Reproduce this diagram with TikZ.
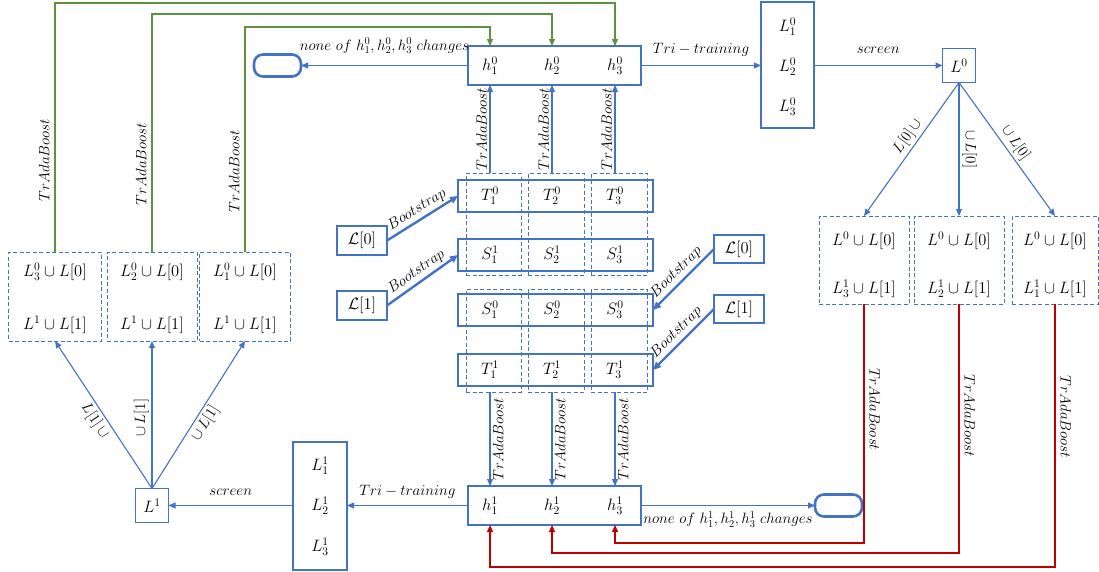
\RequirePackage{fix-cm}
\documentclass[tikz,border=0pt]{standalone}
\usetikzlibrary{arrows.meta}
\definecolor{cblue}{RGB}{68,114,196}
\definecolor{cgreen}{RGB}{95,145,65}
\definecolor{cred}{RGB}{192,0,0}
\begin{document}
\begin{tikzpicture}[x=1pt,y=-1pt,font=\fontsize{15}{18}\selectfont,
  bx/.style={draw=cblue, line width=1.1pt, inner sep=0pt, outer sep=0pt},
  dbx/.style={draw=cblue, line width=1pt, dash pattern=on 4pt off 2.5pt, inner sep=0pt, outer sep=0pt},
  tbx/.style={draw=cblue, line width=2.6pt, inner sep=0pt, outer sep=0pt, font=\fontsize{16.5}{19}\selectfont},
  termbox/.style={draw=cblue, line width=2.6pt, rounded corners=9pt, minimum width=47pt, minimum height=22pt, inner sep=0pt, outer sep=0pt},
  txt/.style={font=\fontsize{16.5}{19}\selectfont},
  conn/.style={cblue, line width=1.1pt, -{Triangle[length=7pt,width=6pt]}},
  bconn/.style={cblue, line width=2.4pt, -{Triangle[length=8pt,width=7pt]}},
  gconn/.style={cgreen, line width=1.4pt, -{Triangle[length=7pt,width=6pt]}},
  rconn/.style={cred, line width=1.4pt, -{Triangle[length=7pt,width=6pt]}},
  lbl/.style={inner sep=2.5pt, text=black},
  flbl/.style={inner sep=5pt, text=black}
]
\useasboundingbox (0,0) rectangle (1099,571);

% ---------- top h0 box ----------
\node[bx, minimum width=173pt, minimum height=39pt] (H0) at (554.5,65.5) {};
\node[txt] (h01) at (490,65.5) {$h_1^0$};
\node[txt] (h02) at (552,65.5) {$h_2^0$};
\node[txt] (h03) at (615,65.5) {$h_3^0$};
\node[termbox] (E0) at (277.5,65.5) {};
\node[bx, minimum width=53pt, minimum height=126pt] (S0) at (787.5,65) {};
\node[txt] (l10) at (787.5,27) {$L_1^0$};
\node[txt] (l20) at (787.5,67) {$L_2^0$};
\node[txt] (l30) at (787.5,107) {$L_3^0$};
\node[bx, txt, minimum width=33pt, minimum height=34pt] (Q0) at (959,65.5) {$L^0$};

\draw[conn] (H0.west) -- node[midway, anchor=base, yshift=15.5pt, lbl] {$none\ of\ h_1^0, h_2^0, h_3^0\ changes$} (E0.east);
\draw[conn] (H0.east) -- node[midway, anchor=base, yshift=12.5pt, lbl] {$Tri-training$} (H0.east -| S0.west);
\draw[conn] (H0.east -| S0.east) -- node[midway, anchor=base, yshift=12.5pt, lbl] {$screen$} (Q0.west);

% ---------- right dashed boxes ----------
\node[dbx, minimum width=90pt, minimum height=88pt] (RB1) at (864,260) {};
\node[dbx, minimum width=90pt, minimum height=88pt] (RB2) at (959,260) {};
\node[dbx, minimum width=86pt, minimum height=88pt] (RB3) at (1055,260) {};
\node[txt] (rb1a) at (864,241) {$L^0\cup L[0]$};
\node[txt] (rb1b) at (864,289) {$L_3^1\cup L[1]$};
\node[txt] (rb2a) at (959,241) {$L^0\cup L[0]$};
\node[txt] (rb2b) at (959,289) {$L_2^1\cup L[1]$};
\node[txt] (rb3a) at (1055,241) {$L^0\cup L[0]$};
\node[txt] (rb3b) at (1055,289) {$L_1^1\cup L[1]$};

\draw[conn] (Q0.south) -- node[rotate=54.5, above, lbl, pos=0.45]{$L[0]\,\cup$} (RB1.north);
\draw[conn] (Q0.south) -- node[rotate=-90, above, lbl, pos=0.5]{$\cup\,L[0]$} (RB2.north);
\draw[conn] (Q0.south) -- node[rotate=-54.5, above, lbl, pos=0.5]{$\cup\,L[0]$} (RB3.north);

% ---------- center grid ----------
\node[dbx, minimum width=55pt, minimum height=102pt] (C01) at (493.5,224) {};
\node[dbx, minimum width=56pt, minimum height=102pt] (C02) at (556,224) {};
\node[dbx, minimum width=56pt, minimum height=102pt] (C03) at (619,224) {};
\node[dbx, minimum width=55pt, minimum height=103pt] (C11) at (493.5,340.5) {};
\node[dbx, minimum width=56pt, minimum height=103pt] (C12) at (556,340.5) {};
\node[dbx, minimum width=56pt, minimum height=103pt] (C13) at (619,340.5) {};

\node[bx, minimum width=195pt, minimum height=32pt] (RT0) at (555.5,196) {};
\node[bx, minimum width=195pt, minimum height=32pt] (RS1) at (555.5,255) {};
\node[bx, minimum width=195pt, minimum height=32pt] (RS0) at (555.5,310) {};
\node[bx, minimum width=195pt, minimum height=32pt] (RT1) at (555.5,370) {};

\node[txt] (t01) at (490,196) {$T_1^0$};
\node[txt] (t02) at (552,196) {$T_2^0$};
\node[txt] (t03) at (615,196) {$T_3^0$};
\node[txt] (s11) at (490,255) {$S_1^1$};
\node[txt] (s12) at (552,255) {$S_2^1$};
\node[txt] (s13) at (615,255) {$S_3^1$};
\node[txt] (s01) at (490,310) {$S_1^0$};
\node[txt] (s02) at (552,310) {$S_2^0$};
\node[txt] (s03) at (615,310) {$S_3^0$};
\node[txt] (t11) at (490,370) {$T_1^1$};
\node[txt] (t12) at (552,370) {$T_2^1$};
\node[txt] (t13) at (615,370) {$T_3^1$};

\draw[conn] (C01.north -| h01) -- node[rotate=90, above, lbl] {$TrAdaBoost$} (H0.south -| h01);
\draw[conn] (C02.north -| h02) -- node[rotate=90, above, lbl] {$TrAdaBoost$} (H0.south -| h02);
\draw[conn] (C03.north -| h03) -- node[rotate=90, above, lbl] {$TrAdaBoost$} (H0.south -| h03);

% ---------- bootstrap boxes ----------
\node[tbx, minimum width=50pt, minimum height=29pt] (LL0) at (362,240.5) {$\mathcal{L}[0]$};
\node[tbx, minimum width=50pt, minimum height=29pt] (LL1) at (362,305.5) {$\mathcal{L}[1]$};
\node[tbx, minimum width=50pt, minimum height=28pt] (RL0) at (739,249) {$\mathcal{L}[0]$};
\node[tbx, minimum width=50pt, minimum height=28pt] (RL1) at (739,309) {$\mathcal{L}[1]$};

\draw[bconn] (LL0.east) -- node[sloped, above, lbl] {$Bootstrap$} (RT0.west);
\draw[bconn] (LL1.east) -- node[sloped, above, lbl] {$Bootstrap$} (RS1.west);
\draw[bconn] (RL0.west) -- node[sloped, above, lbl] {$Bootstrap$} (RS0.east);
\draw[bconn] (RL1.west) -- node[sloped, above, lbl] {$Bootstrap$} (RT1.east);

% ---------- bottom h1 box ----------
\node[bx, minimum width=173pt, minimum height=39pt] (H1) at (554.5,505.5) {};
\node[txt] (h11) at (490,505.5) {$h_1^1$};
\node[txt] (h12) at (552,505.5) {$h_2^1$};
\node[txt] (h13) at (615,505.5) {$h_3^1$};
\node[termbox] (E1) at (838.5,505.5) {};
\node[bx, minimum width=54pt, minimum height=128pt] (S1) at (320,506) {};
\node[txt] (l11) at (320,466) {$L_1^1$};
\node[txt] (l21) at (320,506) {$L_2^1$};
\node[txt] (l31) at (320,547) {$L_3^1$};
\node[bx, txt, minimum width=33pt, minimum height=34pt] (Q1) at (152,505.5) {$L^1$};

\draw[conn] (C11.south -| h11) -- node[rotate=90, below, lbl] {$TrAdaBoost$} (H1.north -| h11);
\draw[conn] (C12.south -| h12) -- node[rotate=90, below, lbl] {$TrAdaBoost$} (H1.north -| h12);
\draw[conn] (C13.south -| h13) -- node[rotate=90, below, lbl] {$TrAdaBoost$} (H1.north -| h13);

\draw[conn] (H1.east) -- node[midway, anchor=base, yshift=-18pt, lbl] {$none\ of\ h_1^1, h_2^1, h_3^1\ changes$} (E1.west);
\draw[conn] (H1.west) -- node[midway, anchor=base, yshift=10pt, lbl] {$Tri-training$} (H1.west -| S1.east);
\draw[conn] (H1.west -| S1.west) -- node[midway, anchor=base, yshift=10pt, lbl] {$screen$} (Q1.east);

% ---------- left dashed boxes ----------
\node[dbx, minimum width=93pt, minimum height=89pt] (LB1) at (55,296.5) {};
\node[dbx, minimum width=90pt, minimum height=89pt] (LB2) at (152,296.5) {};
\node[dbx, minimum width=91pt, minimum height=89pt] (LB3) at (245,296.5) {};
\node[txt] (lb1a) at (55,272) {$L_3^0\cup L[0]$};
\node[txt] (lb1b) at (55,325) {$L^1\cup L[1]$};
\node[txt] (lb2a) at (152,272) {$L_2^0\cup L[0]$};
\node[txt] (lb2b) at (152,325) {$L^1\cup L[1]$};
\node[txt] (lb3a) at (245,272) {$L_1^0\cup L[0]$};
\node[txt] (lb3b) at (245,325) {$L^1\cup L[1]$};

\draw[conn] (Q1.north) -- node[rotate=-56.5, below, lbl, pos=0.5]{$L[1]\,\cup$} (LB1.south);
\draw[conn] (Q1.north) -- node[rotate=90, above, lbl, pos=0.48]{$\cup\,L[1]$} (LB2.south);
\draw[conn] (Q1.north) -- node[rotate=57.9, below, lbl, pos=0.48]{$\cup\,L[1]$} (LB3.south);

% ---------- green feedback ----------
\coordinate (g1) at (615,3);
\coordinate (g2) at (552,14);
\coordinate (g3) at (490,27);
\draw[gconn] (LB1.north) -- node[rotate=90, above, flbl, pos=0.37]{$TrAdaBoost$} (LB1.north |- g1) -- (g1) -- (H0.north -| h03);
\draw[gconn] (LB2.north) -- node[rotate=90, above, flbl, pos=0.37]{$TrAdaBoost$} (LB2.north |- g2) -- (g2) -- (H0.north -| h02);
\draw[gconn] (LB3.north) -- node[rotate=90, above, flbl, pos=0.36]{$TrAdaBoost$} (LB3.north |- g3) -- (g3) -- (H0.north -| h01);

% ---------- red feedback ----------
\coordinate (r1) at (864,543);
\coordinate (r2) at (959,553);
\coordinate (r3) at (1055,567);
\draw[rconn] (RB1.south) -- node[rotate=-90, above, flbl, pos=0.44]{$TrAdaBoost$} (r1) -| (H1.south -| h13);
\draw[rconn] (RB2.south) -- node[rotate=-90, above, flbl, pos=0.45]{$TrAdaBoost$} (r2) -| (H1.south -| h12);
\draw[rconn] (RB3.south) -- node[rotate=-90, above, flbl, pos=0.43]{$TrAdaBoost$} (r3) -| (H1.south -| h11);
\end{tikzpicture}
\end{document}
